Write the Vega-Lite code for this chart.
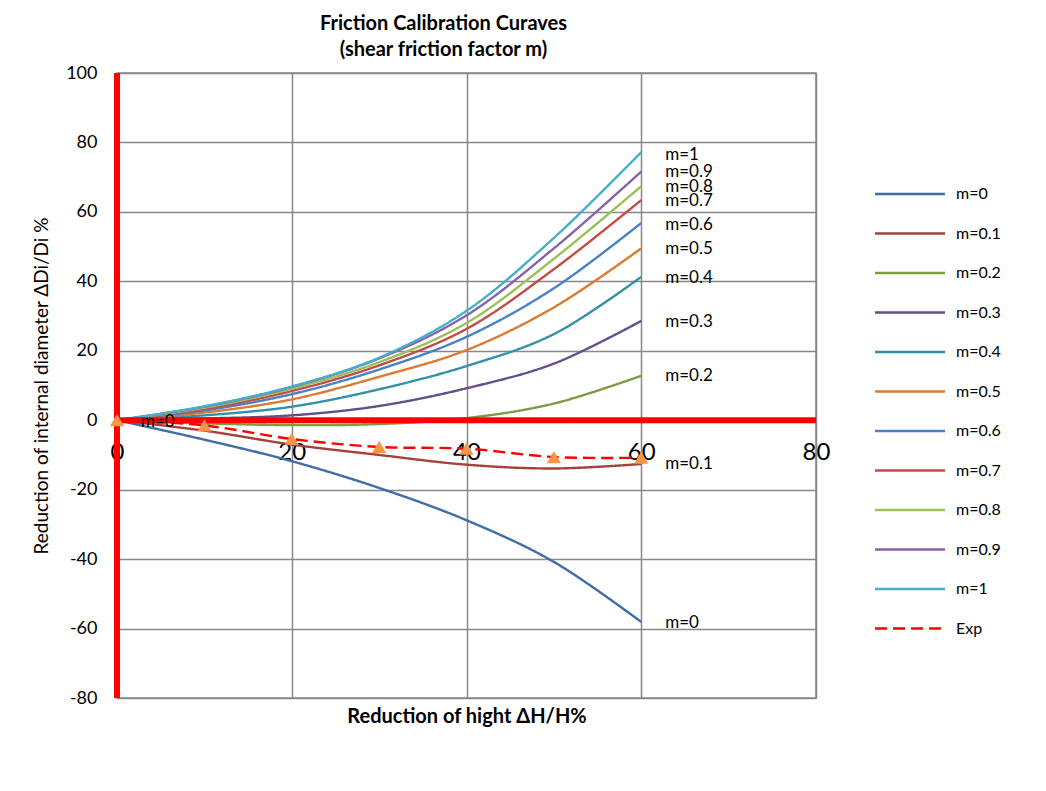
{
  "$schema": "https://vega.github.io/schema/vega-lite/v6.json",
  "autosize": "none",
  "width": 699,
  "height": 625,
  "padding": {"left": 117, "top": 73, "right": 230, "bottom": 93},
  "background": "white",
  "title": {
    "text": ["Friction Calibration Curaves", "(shear friction factor m)"],
    "font": "Lato", "fontSize": 20, "fontWeight": "bold", "color": "black",
    "anchor": "middle", "dx": -23, "offset": 4, "lineHeight": 26
  },
  "config": {
    "view": {"stroke": "#888888", "strokeWidth": 1.5},
    "axis": {
      "gridColor": "#888888", "gridWidth": 1.5, "gridOpacity": 1,
      "labelFont": "Lato", "titleFont": "Lato", "labelColor": "black", "titleColor": "black",
      "domain": false, "ticks": false
    }
  },
  "datasets": {
    "curves": [
      {"series": "m=0", "h": 0, "d": 0}, {"series": "m=0", "h": 10, "d": -5.6}, {"series": "m=0", "h": 20, "d": -11.8}, {"series": "m=0", "h": 30, "d": -19.5}, {"series": "m=0", "h": 40, "d": -28.8}, {"series": "m=0", "h": 50, "d": -40.8}, {"series": "m=0", "h": 60, "d": -58.1},
      {"series": "m=0.1", "h": 0, "d": 0}, {"series": "m=0.1", "h": 10, "d": -3.0}, {"series": "m=0.1", "h": 20, "d": -7.0}, {"series": "m=0.1", "h": 30, "d": -10.0}, {"series": "m=0.1", "h": 40, "d": -12.8}, {"series": "m=0.1", "h": 50, "d": -13.9}, {"series": "m=0.1", "h": 60, "d": -12.6},
      {"series": "m=0.2", "h": 0, "d": 0}, {"series": "m=0.2", "h": 10, "d": -0.9}, {"series": "m=0.2", "h": 20, "d": -1.4}, {"series": "m=0.2", "h": 30, "d": -1.1}, {"series": "m=0.2", "h": 40, "d": 0.6}, {"series": "m=0.2", "h": 50, "d": 4.8}, {"series": "m=0.2", "h": 60, "d": 12.8},
      {"series": "m=0.3", "h": 0, "d": 0}, {"series": "m=0.3", "h": 10, "d": 0.5}, {"series": "m=0.3", "h": 20, "d": 1.4}, {"series": "m=0.3", "h": 30, "d": 4.1}, {"series": "m=0.3", "h": 40, "d": 9.2}, {"series": "m=0.3", "h": 50, "d": 16.3}, {"series": "m=0.3", "h": 60, "d": 28.6},
      {"series": "m=0.4", "h": 0, "d": 0}, {"series": "m=0.4", "h": 10, "d": 1.4}, {"series": "m=0.4", "h": 20, "d": 3.9}, {"series": "m=0.4", "h": 30, "d": 8.9}, {"series": "m=0.4", "h": 40, "d": 15.6}, {"series": "m=0.4", "h": 50, "d": 24.8}, {"series": "m=0.4", "h": 60, "d": 41.3},
      {"series": "m=0.5", "h": 0, "d": 0}, {"series": "m=0.5", "h": 10, "d": 2.2}, {"series": "m=0.5", "h": 20, "d": 6.0}, {"series": "m=0.5", "h": 30, "d": 12.5}, {"series": "m=0.5", "h": 40, "d": 20.2}, {"series": "m=0.5", "h": 50, "d": 32.5}, {"series": "m=0.5", "h": 60, "d": 49.5},
      {"series": "m=0.6", "h": 0, "d": 0}, {"series": "m=0.6", "h": 10, "d": 2.8}, {"series": "m=0.6", "h": 20, "d": 7.5}, {"series": "m=0.6", "h": 30, "d": 14.6}, {"series": "m=0.6", "h": 40, "d": 24.0}, {"series": "m=0.6", "h": 50, "d": 38.0}, {"series": "m=0.6", "h": 60, "d": 56.8},
      {"series": "m=0.7", "h": 0, "d": 0}, {"series": "m=0.7", "h": 10, "d": 3.2}, {"series": "m=0.7", "h": 20, "d": 8.4}, {"series": "m=0.7", "h": 30, "d": 15.8}, {"series": "m=0.7", "h": 40, "d": 26.3}, {"series": "m=0.7", "h": 50, "d": 43.5}, {"series": "m=0.7", "h": 60, "d": 63.4},
      {"series": "m=0.8", "h": 0, "d": 0}, {"series": "m=0.8", "h": 10, "d": 3.6}, {"series": "m=0.8", "h": 20, "d": 9.1}, {"series": "m=0.8", "h": 30, "d": 16.7}, {"series": "m=0.8", "h": 40, "d": 28.0}, {"series": "m=0.8", "h": 50, "d": 46.5}, {"series": "m=0.8", "h": 60, "d": 67.4},
      {"series": "m=0.9", "h": 0, "d": 0}, {"series": "m=0.9", "h": 10, "d": 3.9}, {"series": "m=0.9", "h": 20, "d": 9.6}, {"series": "m=0.9", "h": 30, "d": 17.8}, {"series": "m=0.9", "h": 40, "d": 30.2}, {"series": "m=0.9", "h": 50, "d": 49.5}, {"series": "m=0.9", "h": 60, "d": 71.6},
      {"series": "m=1", "h": 0, "d": 0}, {"series": "m=1", "h": 10, "d": 4.0}, {"series": "m=1", "h": 20, "d": 9.7}, {"series": "m=1", "h": 30, "d": 18.0}, {"series": "m=1", "h": 40, "d": 31.5}, {"series": "m=1", "h": 50, "d": 52.5}, {"series": "m=1", "h": 60, "d": 77.2},
      {"series": "Exp", "h": 0, "d": 0}, {"series": "Exp", "h": 10, "d": -1.5}, {"series": "Exp", "h": 20, "d": -5.4}, {"series": "Exp", "h": 30, "d": -7.7}, {"series": "Exp", "h": 40, "d": -8.2}, {"series": "Exp", "h": 50, "d": -10.6}, {"series": "Exp", "h": 60, "d": -10.8}
    ],
    "labels": [
      {"h": 60, "d": 76.4, "label": "m=1"},
      {"h": 60, "d": 71.5, "label": "m=0.9"},
      {"h": 60, "d": 67.1, "label": "m=0.8"},
      {"h": 60, "d": 63.1, "label": "m=0.7"},
      {"h": 60, "d": 56.2, "label": "m=0.6"},
      {"h": 60, "d": 49.3, "label": "m=0.5"},
      {"h": 60, "d": 40.9, "label": "m=0.4"},
      {"h": 60, "d": 28.2, "label": "m=0.3"},
      {"h": 60, "d": 12.7, "label": "m=0.2"},
      {"h": 60, "d": -12.7, "label": "m=0.1"},
      {"h": 60, "d": -58.5, "label": "m=0"},
      {"h": 0, "d": -0.6, "label": "m=0"}
    ],
    "zero": [{"v": 0}]
  },
  "resolve": {"axis": {"x": "independent"}},
  "layer": [
    {
      "data": {"name": "curves"},
      "mark": {"type": "line", "interpolate": "catmull-rom"},
      "encoding": {
        "x": {
          "field": "h", "type": "quantitative",
          "scale": {"domain": [0, 80], "nice": false, "zero": false},
          "axis": {
            "orient": "bottom", "values": [0, 20, 40, 60, 80], "grid": true, "labels": false,
            "title": "Reduction of hight  ΔH/H%", "titleFontSize": 20, "titleFontWeight": "bold", "titlePadding": 8
          }
        },
        "y": {
          "field": "d", "type": "quantitative",
          "scale": {"domain": [-80, 100], "nice": false},
          "axis": {
            "values": [-80, -60, -40, -20, 0, 20, 40, 60, 80, 100], "grid": true,
            "labelFontSize": 18, "labelPadding": 20, "labelExpr": "'' + datum.value",
            "title": "Reduction of internal diameter ΔDi/Di %", "titleFontSize": 19, "titleFontWeight": "normal", "titlePadding": 14
          }
        },
        "color": {
          "field": "series", "type": "nominal",
          "scale": {
            "domain": ["m=0", "m=0.1", "m=0.2", "m=0.3", "m=0.4", "m=0.5", "m=0.6", "m=0.7", "m=0.8", "m=0.9", "m=1", "Exp"],
            "range": ["#3E6EA8", "#A3413D", "#7B9B45", "#654F8A", "#3390A6", "#DB7A30", "#4A80C6", "#C34B47", "#9BC05A", "#8464A8", "#46ADCB", "#FF0000"]
          },
          "legend": {
            "title": null, "orient": "none", "legendX": 785, "legendY": 113,
            "symbolType": "M-35,0H35", "symbolSize": 4, "symbolStrokeWidth": 3,
            "labelFont": "Lato", "labelFontSize": 16, "labelColor": "black", "labelOffset": 38,
            "rowPadding": 23.5
          }
        },
        "strokeDash": {
          "field": "series", "type": "nominal",
          "scale": {
            "domain": ["m=0", "m=0.1", "m=0.2", "m=0.3", "m=0.4", "m=0.5", "m=0.6", "m=0.7", "m=0.8", "m=0.9", "m=1", "Exp"],
            "range": [[1, 0], [1, 0], [1, 0], [1, 0], [1, 0], [1, 0], [1, 0], [1, 0], [1, 0], [1, 0], [1, 0], [12, 6]]
          },
          "legend": {
            "title": null, "orient": "none", "legendX": 785, "legendY": 113,
            "symbolType": "M-35,0H35", "symbolSize": 4, "symbolStrokeWidth": 3,
            "labelFont": "Lato", "labelFontSize": 16, "labelColor": "black", "labelOffset": 38,
            "rowPadding": 23.5
          }
        },
        "strokeWidth": {
          "field": "series", "type": "nominal",
          "scale": {
            "domain": ["m=0", "m=0.1", "m=0.2", "m=0.3", "m=0.4", "m=0.5", "m=0.6", "m=0.7", "m=0.8", "m=0.9", "m=1", "Exp"],
            "range": [2.4, 2.4, 2.4, 2.4, 2.4, 2.4, 2.4, 2.4, 2.4, 2.4, 2.4, 4.5]
          },
          "legend": null
        }
      }
    },
    {
      "data": {"name": "zero"},
      "mark": {"type": "rule", "color": "#FF0000", "strokeWidth": 6},
      "encoding": {"x": {"field": "v", "type": "quantitative", "axis": null}}
    },
    {
      "data": {"name": "zero"},
      "mark": {"type": "rule", "color": "#FF0000", "strokeWidth": 6},
      "encoding": {"y": {"field": "v", "type": "quantitative"}}
    },
    {
      "data": {"name": "curves"},
      "transform": [{"filter": "datum.series === 'Exp'"}],
      "mark": {"type": "point", "shape": "triangle-up", "filled": true, "color": "#F79646", "opacity": 1, "size": 200},
      "encoding": {
        "x": {"field": "h", "type": "quantitative", "axis": null},
        "y": {"field": "d", "type": "quantitative"}
      }
    },
    {
      "data": {"name": "labels"},
      "mark": {"type": "text", "align": "left", "baseline": "middle", "dx": 24, "font": "Lato", "fontSize": 17, "color": "black"},
      "encoding": {
        "x": {
          "field": "h", "type": "quantitative",
          "axis": {"orient": "bottom", "offset": -278, "values": [0, 20, 40, 60, 80], "grid": false, "labelFlush": false, "labelFontSize": 24, "labelPadding": 20, "title": null}
        },
        "y": {"field": "d", "type": "quantitative"},
        "text": {"field": "label"}
      }
    }
  ]
}
